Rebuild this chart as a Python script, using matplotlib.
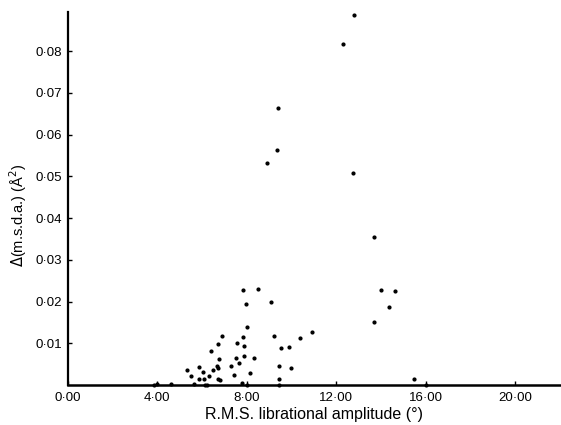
import numpy as np
import matplotlib
matplotlib.use("Agg")
import matplotlib.pyplot as plt
from matplotlib.ticker import FixedLocator

plt.rcParams["font.family"] = ["Liberation Sans", "DejaVu Sans"]

# ── Data ──────────────────────────────────────────────────────────────────────
amp = [12.78, 12.29, 9.39, 9.34, 8.91, 12.75, 13.67, 7.83, 8.48, 7.98, 9.08,
       13.99, 14.61, 14.38, 13.67, 7.99, 7.83, 9.23, 10.92, 10.39, 7.87, 9.88,
       9.55, 8.32, 9.45, 9.97, 8.13, 9.43, 7.77, 8.02, 9.43, 15.49, 6.89, 6.71,
       7.57, 6.40, 6.74, 7.50, 7.65, 7.89, 7.31, 6.68, 6.70, 6.50, 5.88, 6.06,
       5.31, 5.49, 5.85, 6.08, 6.29, 6.73, 6.80, 7.43, 5.64, 6.15, 6.24, 3.99,
       3.87, 4.61, 16.02]
msda = [0.0887, 0.0818, 0.0663, 0.0562, 0.0533, 0.0508, 0.0355, 0.0228, 0.0229,
        0.0193, 0.0200, 0.0228, 0.0226, 0.0186, 0.0150, 0.0138, 0.0116, 0.0117,
        0.0126, 0.0113, 0.0093, 0.0092, 0.0088, 0.0066, 0.0045, 0.0040, 0.0030,
        0.0014, 0.0006, 0.0001, 0.0001, 0.0014, 0.0117, 0.0098, 0.0101, 0.0082,
        0.0062, 0.0064, 0.0054, 0.0070, 0.0046, 0.0046, 0.0042, 0.0036, 0.0043,
        0.0032, 0.0037, 0.0022, 0.0014, 0.0015, 0.0021, 0.0015, 0.0013, 0.0023,
        0.0003, 0.0001, 0.0001, 0.0003, 0.0001, 0.0003, 0.0001]

xticks = [0, 4, 8, 12, 16, 20]
xtick_labels = ["0·00", "4·00", "8·00", "12·00", "16·00", "20·00"]
yticks = [0.01, 0.02, 0.03, 0.04, 0.05, 0.06, 0.07, 0.08]
ytick_labels = ["0·01", "0·02", "0·03", "0·04", "0·05", "0·06", "0·07", "0·08"]

# ── Plot ──────────────────────────────────────────────────────────────────────
fig = plt.figure(figsize=(5.61, 4.25), dpi=100)
ax = fig.add_axes([0.121, 0.094, 0.879, 0.878])

ax.plot(amp, msda, ls="none", marker="o", ms=2.0, color="black", clip_on=False)

ax.set_xlim(0, 22.05)
ax.set_ylim(0, 0.0894)
ax.xaxis.set_major_locator(FixedLocator(xticks))
ax.set_xticklabels(xtick_labels)
ax.yaxis.set_major_locator(FixedLocator(yticks))
ax.set_yticklabels(ytick_labels)
ax.tick_params(direction="in", length=3, width=1, labelsize=9.5)
ax.tick_params(axis="x", pad=5)
ax.tick_params(axis="y", pad=4)

for side in ("top", "right"):
    ax.spines[side].set_visible(False)
ax.spines["left"].set_linewidth(1.6)
ax.spines["bottom"].set_linewidth(1.8)

ax.set_xlabel("R.M.S. librational amplitude (°)", fontsize=11.5, labelpad=2)
ax.set_ylabel(r"$\mathit{\Delta}$(m.s.d.a.) (Å$^2$)", fontsize=10.5)
ax.yaxis.set_label_coords(-0.079, 0.455)

fig.savefig("out.png", dpi=100)
